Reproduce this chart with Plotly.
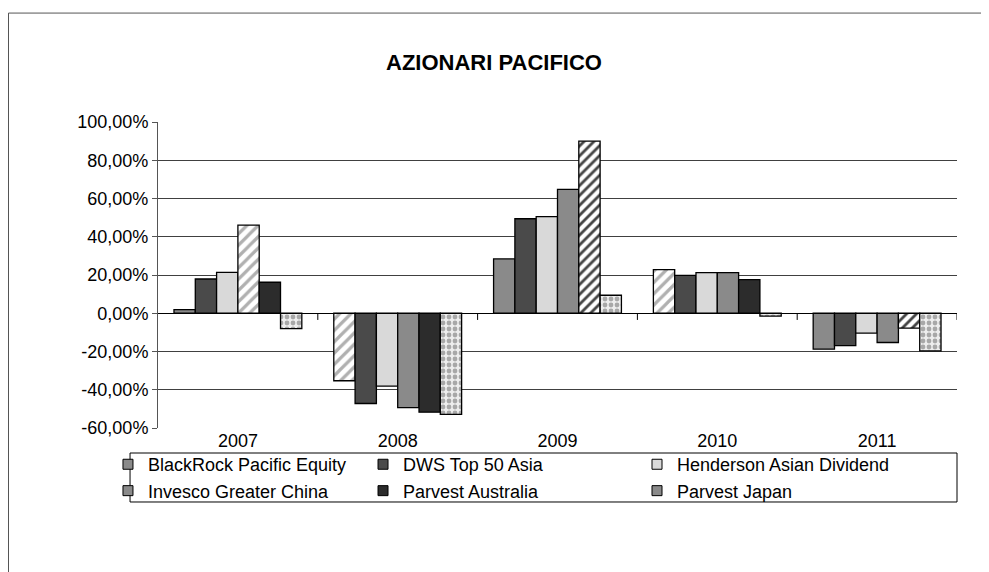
import plotly.graph_objects as go

# ---------------- data ----------------
years = ["2007", "2008", "2009", "2010", "2011"]
fund_names = [
    "BlackRock Pacific Equity",
    "DWS Top 50 Asia",
    "Henderson Asian Dividend",
    "Invesco Greater China",
    "Parvest Australia",
    "Parvest Japan",
]
blackrock = [1.9, -35.3, 28.4, 22.8, -18.8]
dws = [17.9, -47.2, 49.4, 19.8, -16.9]
henderson = [21.4, -38.1, 50.5, 21.2, -10.4]
invesco = [46.1, -49.3, 64.8, 21.2, -15.3]
parvest_au = [16.2, -51.7, 90.0, 17.6, -7.8]
parvest_jp = [-8.0, -52.9, 9.4, -1.5, -19.7]
series = [blackrock, dws, henderson, invesco, parvest_au, parvest_jp]

y_tick_vals = [1.0, 0.8, 0.6, 0.4, 0.2, 0.0, -0.2, -0.4, -0.6]
y_tick_text = ["100,00%", "80,00%", "60,00%", "40,00%", "20,00%", "0,00%",
               "-20,00%", "-40,00%", "-60,00%"]

title_text = "AZIONARI PACIFICO"

# ---------------- styles ----------------
FONT = "Liberation Sans, Arial, sans-serif"
fill_styles = {
    "M": dict(color="#8a8a8a"),
    "D": dict(color="#4a4a4a"),
    "L": dict(color="#d9d9d9"),
    "K": dict(color="#2c2c2c"),
    "H": dict(color="#ffffff", pattern=dict(shape="/", fgcolor="#b0b0b0", bgcolor="#ffffff",
                                            size=8, solidity=0.4, fillmode="replace")),
    "HD": dict(color="#ffffff", pattern=dict(shape="/", fgcolor="#444444", bgcolor="#ffffff",
                                             size=7, solidity=0.4, fillmode="replace")),
    "P": dict(color="#e6e6e6", pattern=dict(shape=".", fgcolor="#a8a8a8", bgcolor="#eeeeee",
                                            size=6, solidity=0.5, fillmode="replace")),
}
fill_pattern = [
    ["M", "H", "M", "H", "M"],
    ["D", "D", "D", "D", "D"],
    ["L", "L", "L", "L", "L"],
    ["H", "M", "M", "M", "M"],
    ["K", "K", "HD", "K", "HD"],
    ["P", "P", "P", "P", "P"],
]
legend_colors = ["#8a8a8a", "#4a4a4a", "#d9d9d9", "#8a8a8a", "#2c2c2c", "#8a8a8a"]
legend_ids = ["legend", "legend2", "legend3", "legend", "legend2", "legend3"]

fig = go.Figure()

for si, (name, vals, fp) in enumerate(zip(fund_names, series, fill_pattern)):
    for key in dict.fromkeys(fp):
        ys = [v / 100 if k == key else None for v, k in zip(vals, fp)]
        st = fill_styles[key]
        marker = dict(color=st["color"], line=dict(color="black", width=1.3))
        if "pattern" in st:
            marker["pattern"] = st["pattern"]
        fig.add_trace(go.Bar(
            x=years, y=ys, name=name, offsetgroup=str(si),
            showlegend=False, marker=marker, hoverinfo="skip",
        ))

# legend entries
for name, c, lg in zip(fund_names, legend_colors, legend_ids):
    fig.add_trace(go.Scatter(
        x=[None], y=[None], mode="markers", name=name, legend=lg,
        marker=dict(symbol="square", size=10, color=c, line=dict(color="black", width=1)),
        showlegend=True,
    ))

# category separators on the zero line
for i in range(len(years)):
    fig.add_shape(type="line", xref="x", yref="y", x0=i + 0.5, x1=i + 0.5,
                  y0=0, y1=-0.035, line=dict(color="black", width=1))

# legend box
fig.add_shape(type="rect", xref="paper", yref="paper", x0=-0.035, x1=1.0,
              y0=-0.2418, y1=-0.0817, line=dict(color="black", width=1),
              fillcolor="rgba(0,0,0,0)", layer="below")
# outer chart frame
fig.add_shape(type="rect", xref="paper", yref="paper", x0=-0.1871, x1=1.08,
              y0=-0.55, y1=1.356, line=dict(color="#555555", width=1),
              fillcolor="rgba(0,0,0,0)", layer="below")

leg_common = dict(orientation="v", yanchor="top", xanchor="left", y=-0.059,
                  font=dict(family=FONT, size=18, color="black"),
                  bgcolor="rgba(0,0,0,0)", borderwidth=0, tracegroupgap=0,
                  itemwidth=30)

fig.update_layout(
    width=989, height=572,
    margin=dict(l=150, r=40, t=114, b=152),
    paper_bgcolor="white", plot_bgcolor="white",
    separators=",.",
    barmode="group", bargap=0.2, bargroupgap=0,
    font=dict(family=FONT, size=18, color="black"),
    title=dict(text="<b>" + title_text + "</b>", x=0.4914, xref="container",
               y=1 - 54 / 572, yref="container", yanchor="middle", xanchor="center",
               font=dict(family=FONT, size=22, color="black")),
    xaxis=dict(type="category", range=[-0.5, 4.5], showgrid=False, zeroline=False,
               showline=False, ticks="", ticklabelstandoff=0,
               tickfont=dict(family=FONT, size=18, color="black")),
    yaxis=dict(range=[-0.6, 1.0], tickmode="array", tickvals=y_tick_vals,
               ticktext=y_tick_text,
               showgrid=True, gridcolor="#404040", gridwidth=1,
               zeroline=True, zerolinecolor="black", zerolinewidth=1,
               showline=True, linecolor="#555555", linewidth=1,
               ticks="outside", ticklen=5, tickcolor="#555555",
               tickfont=dict(family=FONT, size=18, color="black")),
    legend=dict(x=-0.0626, **leg_common),
    legend2=dict(x=0.2566, **leg_common),
    legend3=dict(x=0.5995, **leg_common),
)

fig.write_html("out.html")
